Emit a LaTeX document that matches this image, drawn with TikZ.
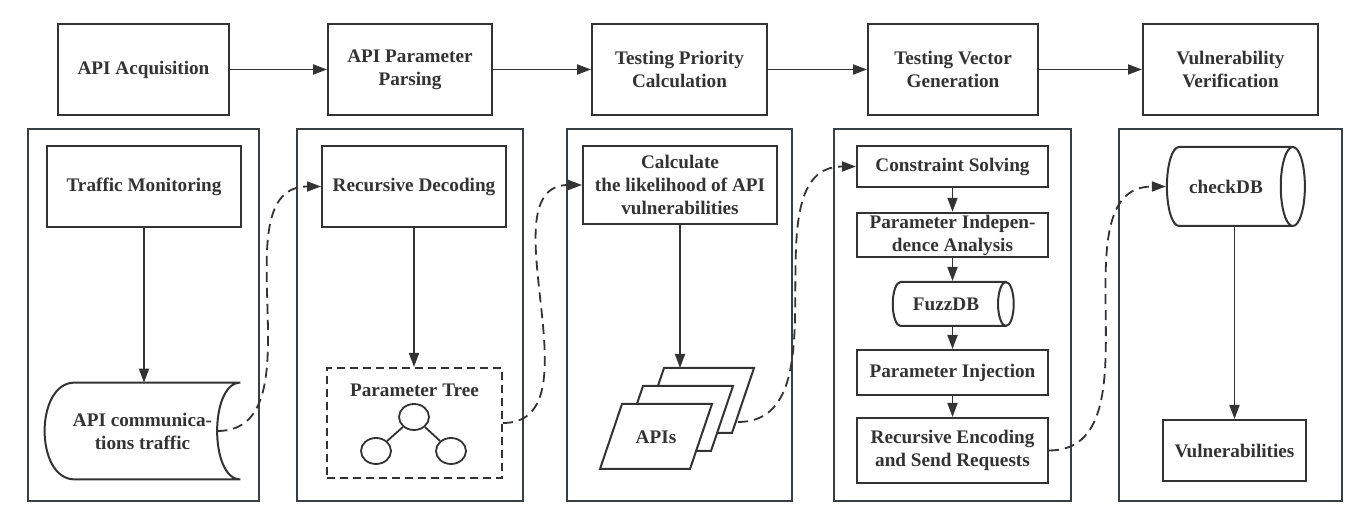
\documentclass[tikz,border=0pt]{standalone}
\usepackage{fontspec}
\setmainfont{Liberation Serif}
\usetikzlibrary{shapes.geometric,arrows.meta}

\definecolor{Ink}{HTML}{333333}
\definecolor{Frame}{HTML}{3A3F44}

\tikzset{
  stage/.style={draw=Ink, line width=1pt, align=center, minimum height=45.5pt},
  task/.style={draw=Ink, line width=1pt, align=center, inner ysep=1pt},
  panel/.style={draw=Frame, line width=1.1pt},
  db/.style={cylinder, draw=Ink, line width=1pt, aspect=0.6, shape border rotate=0},
  leaf/.style={ellipse, draw=Ink, line width=0.9pt, inner sep=0pt, minimum width=15pt, minimum height=13pt},
  flow/.style={draw=Ink, line width=0.9pt, -{Triangle[length=7pt,width=5pt]}},
  hop/.style={flow, dash pattern=on 5pt off 3pt}
}

\begin{document}
\begin{tikzpicture}[x=0.5pt, y=-0.5pt, every node/.style={font=\fontsize{9.6}{11.5}\selectfont\bfseries, text=Ink}]

 \useasboundingbox (0,0) rectangle (1360,523) ;

 %%%%%%%%%% Stages %%%%%%%%%%
 \node [stage, minimum width=85.5pt] (acq) at (143.5,69.5) {API Acquisition} ;
 \node [stage, minimum width=82pt] (parse) at (410,69.5) {API Parameter\\Parsing} ;
 \node [stage, minimum width=87.5pt] (prio) at (679.5,69.5) {Testing Priority\\Calculation} ;
 \node [stage, minimum width=85pt] (vecgen) at (953,69.5) {Testing Vector\\Generation} ;
 \node [stage, minimum width=87.5pt] (verif) at (1230.5,69.5) {Vulnerability\\Verification} ;

 \foreach \a/\b in {acq/parse, parse/prio, prio/vecgen, vecgen/verif}
   \draw [flow] (\a) -- (\b) ;

 %%%%%%%%%% Panels %%%%%%%%%%
 \draw [panel] (28,129) rectangle (259,501) ;
 \draw [panel] (297,129) rectangle (523,501) ;
 \draw [panel] (567,129) rectangle (792,501) ;
 \draw [panel] (834,129) rectangle (1071,501) ;
 \draw [panel] (1119,129) rectangle (1342,501) ;

 %%%%%%%%%% Acquisition %%%%%%%%%%
 \node [task, minimum width=97pt, minimum height=40.5pt] (mon) at (144,186.5) {Traffic Monitoring} ;
 \node [align=center, minimum width=97.5pt, minimum height=48pt] (traffic) at (142.5,431) {API communica-\\tions traffic} ;
 \draw [draw=Ink, line width=1pt] (traffic.north east) -- ([xshift=15pt]traffic.north west)
   .. controls +(-20pt,0pt) and +(-20pt,0pt) .. ([xshift=15pt]traffic.south west)
   -- (traffic.south east) .. controls +(-15.5pt,0pt) and +(-15.5pt,0pt) .. (traffic.north east) ;
 \coordinate (traffic-out) at ([xshift=-11.5pt]traffic.east) ;
 \draw [flow] (mon.south) -- (mon.south |- traffic.north) ;

 %%%%%%%%%% Parsing %%%%%%%%%%
 \node [task, minimum width=92pt, minimum height=40.5pt] (dec) at (414,186.5) {Recursive Decoding} ;
 \node [draw=Ink, line width=1pt, dash pattern=on 4pt off 2.5pt, minimum width=87.5pt, minimum height=55pt] (tree) at (414.5,423) {} ;
 \node (treelbl) at (414.5,390) {Parameter Tree} ;
 \node [leaf] (root) at (414,417) {} ;
 \node [leaf] (lchild) at (376,451) {} ;
 \node [leaf] (rchild) at (451,451) {} ;
 \draw [draw=Ink, line width=0.9pt] (root) -- (lchild) (root) -- (rchild) ;
 \draw [flow] (dec.south) -- (dec.south |- tree.north) ;

 %%%%%%%%%% Priority %%%%%%%%%%
 \node [task, minimum width=97pt, minimum height=39pt] (calc) at (680,185) {Calculate\\the likelihood of API\\vulnerabilities} ;
 \foreach \dx/\dy in {42/-36, 21/-18, 0/0}
   \filldraw [fill=white, draw=Ink, line width=1pt, shift={(\dx,\dy)}] (622,404) -- (712,404) -- (690,469) -- (600,469) -- cycle ;
 \node (apis) at (656,437) {APIs} ;
 \coordinate (stack-top) at (680,368) ;
 \coordinate (apis-out) at (738,422) ;
 \draw [flow] (calc.south) -- (stack-top) ;

 %%%%%%%%%% Vector generation %%%%%%%%%%
 \node [task, minimum width=95.5pt, minimum height=20.5pt] (solve) at (952.5,166.5) {Constraint Solving} ;
 \node [task, minimum width=95.5pt, minimum height=22pt] (indep) at (952.5,235) {Parameter Indepen-\\dence Analysis} ;
 \node [db, minimum height=60.5pt, minimum width=22pt] (fuzz) at (946,304) {FuzzDB} ;
 \node [task, minimum width=95.5pt, minimum height=22.5pt] (inject) at (952.5,372.5) {Parameter Injection} ;
 \node [task, minimum width=95.5pt, minimum height=32.5pt] (encode) at (952.5,450.5) {Recursive Encoding\\and Send Requests} ;

 \foreach \a/\b in {solve/indep, indep/fuzz, inject/encode}
   \draw [flow] (\a.south) -- (\a.south |- \b.north) ;
 \draw [flow] (fuzz.south -| inject.north) -- (inject.north) ;

 %%%%%%%%%% Verification %%%%%%%%%%
 \node [db, aspect=0.9, minimum height=69pt, minimum width=39.5pt] (check) at (1226,186.5) {checkDB} ;
 \node [task, minimum width=71.5pt, minimum height=30.5pt] (vuln) at (1234.5,450.5) {Vulnerabilities} ;
 \draw [flow] (check.south -| vuln.north) -- (vuln.north) ;

 %%%%%%%%%% Hand-over between panels %%%%%%%%%%
 \draw [hop] (traffic-out) to [out=0, in=180] (dec.west) ;
 \draw [hop] (tree.east) to [out=0, in=180] (calc.west) ;
 \draw [hop] (apis-out) to [out=0, in=180] (solve.west) ;
 \draw [hop] (encode.east) to [out=0, in=180] (check.west) ;

\end{tikzpicture}
\end{document}
